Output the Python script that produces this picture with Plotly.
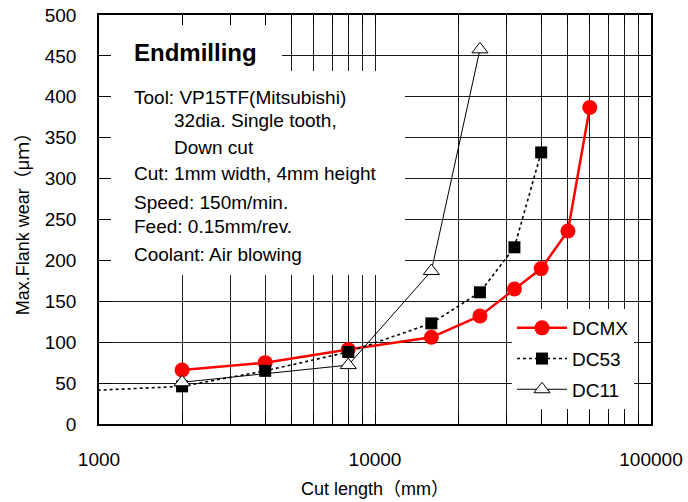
import plotly.graph_objects as go

# ---- data ----
dcmx_x = [2000, 4000, 8000, 16000, 24000, 32000, 40000, 50000, 60000]
dcmx_y = [66, 75, 91, 106, 132, 165, 190, 236, 387]

dc53_x = [600, 2000, 4000, 8000, 16000, 24000, 32000, 40000]
dc53_y = [38, 46, 65, 88, 123, 161, 216, 332]

dc11_x = [2000, 8000, 16000, 24000]
dc11_y = [51, 72, 187, 458]

x_tickvals = [1000, 2000, 3000, 4000, 5000, 6000, 7000, 8000, 9000,
              10000, 20000, 30000, 40000, 50000, 60000, 70000, 80000, 90000, 100000]
x_ticktext = ["1000"] + [""] * 8 + ["10000"] + [""] * 8 + ["100000"]
y_tickvals = [0, 50, 100, 150, 200, 250, 300, 350, 400, 450, 500]

info_title = "Endmilling"
info_lines = [
    ("Tool: VP15TF(Mitsubishi)", 132, 97),
    ("32dia. Single tooth,", 172, 121),
    ("Down cut", 172, 147),
    ("Cut: 1mm width, 4mm height", 132, 174),
    ("Speed: 150m/min.", 132, 202),
    ("Feed: 0.15mm/rev.", 132, 227),
    ("Coolant: Air blowing", 132, 254),
]

FONT = "Liberation Sans, Arial, 'Noto Sans CJK JP', sans-serif"
W, H = 688, 502
L, R, T, B = 99, 651, 15, 424
X_LOG = (3, 5)
Y_RNG = (0, 500)


def px(xp):
    return (xp - L) / (R - L)


def py(yp):
    return (B - yp) / (B - T)


def dx(xp):
    return 10 ** (X_LOG[0] + (X_LOG[1] - X_LOG[0]) * px(xp))


def dy(yp):
    return Y_RNG[0] + (Y_RNG[1] - Y_RNG[0]) * py(yp)


fig = go.Figure()

fig.add_trace(go.Scatter(
    x=dcmx_x, y=dcmx_y, name="DCMX", mode="lines+markers", legendgroup="a",
    line=dict(color="#ff0000", width=2.5),
    marker=dict(symbol="circle", size=15, color="#ff0000"),
))
fig.add_trace(go.Scatter(
    x=dc53_x, y=dc53_y, name="DC53", mode="lines+markers", legendgroup="b",
    line=dict(color="black", width=1.6, dash="dot"),
    marker=dict(symbol="square", size=12, color="black"),
))
fig.add_trace(go.Scatter(
    x=dc11_x, y=dc11_y, name="DC11", mode="lines+markers", legendgroup="c",
    line=dict(color="black", width=1),
    marker=dict(symbol="triangle-up", size=14, color="white",
                line=dict(color="black", width=1)),
))

# white text boxes hiding the grid (between grid and traces)
fig.add_shape(type="rect", xref="x", yref="y", layer="between",
              x0=dx(L), x1=dx(282), y0=dy(72), y1=dy(T),
              fillcolor="white", line=dict(width=0))
fig.add_shape(type="rect", xref="x", yref="y", layer="between",
              x0=dx(L), x1=dx(405), y0=dy(275), y1=dy(71),
              fillcolor="white", line=dict(width=0))

fig.add_annotation(text="<b>%s</b>" % info_title, xref="paper", yref="paper",
                   x=px(132), y=py(53), xanchor="left", yanchor="middle",
                   showarrow=False, font=dict(family=FONT, size=24, color="black"))
for txt, xl, yc in info_lines:
    fig.add_annotation(text=txt, xref="paper", yref="paper",
                       x=px(xl), y=py(yc), xanchor="left", yanchor="middle",
                       showarrow=False, font=dict(family=FONT, size=19, color="black"))

GRID = "#1a1a1a"
fig.update_xaxes(
    type="log", range=list(X_LOG),
    tickvals=x_tickvals, ticktext=x_ticktext,
    ticks="inside", ticklen=10, tickcolor="black", tickwidth=1.2,
    showgrid=True, gridcolor=GRID, gridwidth=1.3,
    showline=True, linecolor="black", linewidth=1.5, mirror="ticks",
    tickfont=dict(family=FONT, size=19, color="black"),
    ticklabelstandoff=17,
    title=dict(text="Cut length（mm）", font=dict(family=FONT, size=18, color="black"),
               standoff=14),
    zeroline=False,
)
fig.update_yaxes(
    range=list(Y_RNG), tickvals=y_tickvals,
    ticks="inside", ticklen=12, tickcolor="black", tickwidth=1.2,
    showgrid=True, gridcolor=GRID, gridwidth=1.3,
    showline=True, linecolor="black", linewidth=1.5, mirror="ticks",
    tickfont=dict(family=FONT, size=19, color="black"),
    ticklabelstandoff=17,
    title=dict(text="Max.Flank wear（μｍ）", font=dict(family=FONT, size=18, color="black"),
               standoff=10),
    zeroline=False,
)

fig.update_layout(
    width=W, height=H,
    margin=dict(l=L, r=W - R, t=T, b=H - B, autoexpand=False),
    paper_bgcolor="white", plot_bgcolor="white",
    showlegend=True,
    legend=dict(x=px(512), y=py(309), xanchor="left", yanchor="top",
                bgcolor="white", borderwidth=0,
                font=dict(family=FONT, size=19, color="black"),
                tracegroupgap=3, itemwidth=50),
    font=dict(family=FONT, color="black"),
)

fig.write_html("out.html")
